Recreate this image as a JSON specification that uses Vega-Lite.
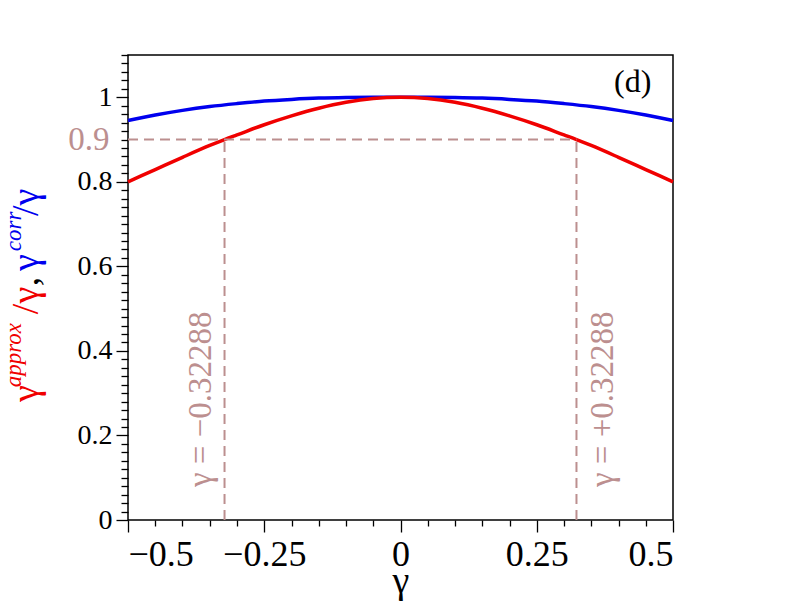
{
  "$schema": "https://vega.github.io/schema/vega-lite/v6.json",
  "width": 545,
  "height": 465,
  "autosize": {"type": "none"},
  "padding": {"left": 128, "top": 55, "right": 119, "bottom": 92},
  "background": "white",
  "config": {
    "font": "Liberation Serif",
    "view": {"stroke": "black", "strokeWidth": 1.5},
    "axis": {
      "domain": false,
      "grid": false,
      "tickColor": "black",
      "tickWidth": 1.3,
      "labelColor": "black",
      "labelFont": "Liberation Serif",
      "titleFont": "Liberation Serif",
      "titleColor": "black",
      "titleFontWeight": "normal"
    }
  },
  "datasets": {
    "curves": [
      {"g": -0.5, "v": 0.945, "s": "corr"},
      {"g": -0.45, "v": 0.958, "s": "corr"},
      {"g": -0.4, "v": 0.969, "s": "corr"},
      {"g": -0.35, "v": 0.978, "s": "corr"},
      {"g": -0.3, "v": 0.985, "s": "corr"},
      {"g": -0.25, "v": 0.991, "s": "corr"},
      {"g": -0.2, "v": 0.995, "s": "corr"},
      {"g": -0.15, "v": 0.998, "s": "corr"},
      {"g": -0.1, "v": 0.9995, "s": "corr"},
      {"g": -0.05, "v": 1.0, "s": "corr"},
      {"g": 0, "v": 1.0, "s": "corr"},
      {"g": 0.05, "v": 1.0, "s": "corr"},
      {"g": 0.1, "v": 0.9995, "s": "corr"},
      {"g": 0.15, "v": 0.998, "s": "corr"},
      {"g": 0.2, "v": 0.995, "s": "corr"},
      {"g": 0.25, "v": 0.991, "s": "corr"},
      {"g": 0.3, "v": 0.985, "s": "corr"},
      {"g": 0.35, "v": 0.978, "s": "corr"},
      {"g": 0.4, "v": 0.969, "s": "corr"},
      {"g": 0.45, "v": 0.958, "s": "corr"},
      {"g": 0.5, "v": 0.945, "s": "corr"},
      {"g": -0.5, "v": 0.8, "s": "approx"},
      {"g": -0.45, "v": 0.829, "s": "approx"},
      {"g": -0.4, "v": 0.858, "s": "approx"},
      {"g": -0.35, "v": 0.886, "s": "approx"},
      {"g": -0.32288, "v": 0.9, "s": "approx"},
      {"g": -0.3, "v": 0.911, "s": "approx"},
      {"g": -0.25, "v": 0.935, "s": "approx"},
      {"g": -0.2, "v": 0.956, "s": "approx"},
      {"g": -0.15, "v": 0.974, "s": "approx"},
      {"g": -0.1, "v": 0.988, "s": "approx"},
      {"g": -0.05, "v": 0.997, "s": "approx"},
      {"g": 0, "v": 1.0, "s": "approx"},
      {"g": 0.05, "v": 0.997, "s": "approx"},
      {"g": 0.1, "v": 0.988, "s": "approx"},
      {"g": 0.15, "v": 0.974, "s": "approx"},
      {"g": 0.2, "v": 0.956, "s": "approx"},
      {"g": 0.25, "v": 0.935, "s": "approx"},
      {"g": 0.3, "v": 0.911, "s": "approx"},
      {"g": 0.32288, "v": 0.9, "s": "approx"},
      {"g": 0.35, "v": 0.886, "s": "approx"},
      {"g": 0.4, "v": 0.858, "s": "approx"},
      {"g": 0.45, "v": 0.829, "s": "approx"},
      {"g": 0.5, "v": 0.8, "s": "approx"}
    ],
    "guides": [
      {"x1": -0.5, "x2": 0.32288, "y1": 0.9, "y2": 0.9},
      {"x1": -0.32288, "x2": -0.32288, "y1": 0, "y2": 0.9},
      {"x1": 0.32288, "x2": 0.32288, "y1": 0, "y2": 0.9}
    ]
  },
  "layer": [
    {
      "data": {"name": "curves"},
      "transform": [{"filter": "datum.s === 'corr'"}],
      "mark": {"type": "line", "color": "#0000ee", "strokeWidth": 3.5, "interpolate": "monotone"},
      "encoding": {
        "x": {"field": "g", "type": "quantitative",
          "scale": {"domain": [-0.5, 0.5], "nice": false, "zero": false},
          "axis": {"orient": "bottom", "title": null, "labels": false, "tickSize": 6,
            "values": [-0.45, -0.4, -0.35, -0.3, -0.2, -0.15, -0.1, -0.05, 0.05, 0.1, 0.15, 0.2, 0.3, 0.35, 0.4, 0.45]}},
        "y": {"field": "v", "type": "quantitative",
          "scale": {"domain": [0, 1.1], "nice": false, "zero": false},
          "axis": {"orient": "left", "title": null, "labels": false, "tickSize": 7,
            "values": [0.02,0.04,0.06,0.08,0.1,0.12,0.14,0.16,0.18,0.22,0.24,0.26,0.28,0.3,0.32,0.34,0.36,0.38,0.42,0.44,0.46,0.48,0.5,0.52,0.54,0.56,0.58,0.62,0.64,0.66,0.68,0.7,0.72,0.74,0.76,0.78,0.82,0.84,0.86,0.88,0.9,0.92,0.94,0.96,0.98,1.02,1.04,1.06,1.08,1.1]}}
      }
    },
    {
      "data": {"name": "curves"},
      "transform": [{"filter": "datum.s === 'approx'"}],
      "mark": {"type": "line", "color": "#f00000", "strokeWidth": 3.5, "interpolate": "monotone"},
      "encoding": {
        "x": {"field": "g", "type": "quantitative",
          "scale": {"domain": [-0.5, 0.5], "nice": false, "zero": false},
          "axis": {"orient": "bottom", "title": "γ", "titleFontSize": 38, "titlePadding": -10,
            "labelFontSize": 36, "labelPadding": 5, "tickSize": 12, "format": ".2~f",
            "values": [-0.5, -0.25, 0, 0.25, 0.5]}},
        "y": {"field": "v", "type": "quantitative",
          "scale": {"domain": [0, 1.1], "nice": false, "zero": false},
          "axis": {"orient": "left", "title": null, "labelFontSize": 28, "labelPadding": 4,
            "tickSize": 12, "format": ".1~f", "values": [0, 0.2, 0.4, 0.6, 0.8, 1]}}
      }
    },
    {
      "data": {"name": "guides"},
      "mark": {"type": "rule", "color": "#bc8f8f", "strokeWidth": 2, "strokeDash": [10, 6]},
      "encoding": {
        "x": {"field": "x1", "type": "quantitative", "scale": {"domain": [-0.5, 0.5], "nice": false, "zero": false}, "axis": null},
        "x2": {"field": "x2"},
        "y": {"field": "y1", "type": "quantitative", "scale": {"domain": [0, 1.1], "nice": false, "zero": false}, "axis": null},
        "y2": {"field": "y2"}
      }
    },
    {
      "data": {"values": [
        {"x": -0.347, "y": 0.078, "t": "γ = −0.32288"},
        {"x": 0.389, "y": 0.078, "t": "γ = +0.32288"}
      ]},
      "mark": {"type": "text", "color": "#bc8f8f", "fontSize": 33, "angle": 270, "align": "left", "baseline": "alphabetic"},
      "encoding": {
        "x": {"field": "x", "type": "quantitative", "scale": {"domain": [-0.5, 0.5], "nice": false, "zero": false}, "axis": null},
        "y": {"field": "y", "type": "quantitative", "scale": {"domain": [0, 1.1], "nice": false, "zero": false}, "axis": null},
        "text": {"field": "t"}
      }
    },
    {
      "data": {"values": [{"x": -0.534, "y": 0.9, "t": "0.9"}]},
      "mark": {"type": "text", "color": "#bc8f8f", "fontSize": 33, "align": "right", "baseline": "middle"},
      "encoding": {
        "x": {"field": "x", "type": "quantitative", "scale": {"domain": [-0.5, 0.5], "nice": false, "zero": false}, "axis": null},
        "y": {"field": "y", "type": "quantitative", "scale": {"domain": [0, 1.1], "nice": false, "zero": false}, "axis": null},
        "text": {"field": "t"}
      }
    },
    {
      "data": {"values": [{"x": 0.426, "y": 1.012, "t": "(d)"}]},
      "mark": {"type": "text", "color": "black", "fontSize": 32, "align": "center", "baseline": "alphabetic"},
      "encoding": {
        "x": {"field": "x", "type": "quantitative", "scale": {"domain": [-0.5, 0.5], "nice": false, "zero": false}, "axis": null},
        "y": {"field": "y", "type": "quantitative", "scale": {"domain": [0, 1.1], "nice": false, "zero": false}, "axis": null},
        "text": {"field": "t"}
      }
    },
    {
      "data": {"values": [
        {"x": -0.666, "y": 0.279, "t": "γ"},
        {"x": -0.666, "y": 0.487, "t": "/γ"}
      ]},
      "mark": {"type": "text", "color": "#f00000", "fontSize": 38, "angle": 270, "align": "left", "baseline": "alphabetic"},
      "encoding": {
        "x": {"field": "x", "type": "quantitative", "scale": {"domain": [-0.5, 0.5], "nice": false, "zero": false}, "axis": null},
        "y": {"field": "y", "type": "quantitative", "scale": {"domain": [0, 1.1], "nice": false, "zero": false}, "axis": null},
        "text": {"field": "t"}
      }
    },
    {
      "data": {"values": [{"x": -0.697, "y": 0.314, "t": "approx"}]},
      "mark": {"type": "text", "color": "#f00000", "fontSize": 23, "fontStyle": "italic", "angle": 270, "align": "left", "baseline": "alphabetic"},
      "encoding": {
        "x": {"field": "x", "type": "quantitative", "scale": {"domain": [-0.5, 0.5], "nice": false, "zero": false}, "axis": null},
        "y": {"field": "y", "type": "quantitative", "scale": {"domain": [0, 1.1], "nice": false, "zero": false}, "axis": null},
        "text": {"field": "t"}
      }
    },
    {
      "data": {"values": [{"x": -0.666, "y": 0.553, "t": ","}]},
      "mark": {"type": "text", "color": "black", "fontSize": 38, "angle": 270, "align": "left", "baseline": "alphabetic"},
      "encoding": {
        "x": {"field": "x", "type": "quantitative", "scale": {"domain": [-0.5, 0.5], "nice": false, "zero": false}, "axis": null},
        "y": {"field": "y", "type": "quantitative", "scale": {"domain": [0, 1.1], "nice": false, "zero": false}, "axis": null},
        "text": {"field": "t"}
      }
    },
    {
      "data": {"values": [
        {"x": -0.666, "y": 0.589, "t": "γ"},
        {"x": -0.666, "y": 0.719, "t": "/γ"}
      ]},
      "mark": {"type": "text", "color": "#0000ee", "fontSize": 38, "angle": 270, "align": "left", "baseline": "alphabetic"},
      "encoding": {
        "x": {"field": "x", "type": "quantitative", "scale": {"domain": [-0.5, 0.5], "nice": false, "zero": false}, "axis": null},
        "y": {"field": "y", "type": "quantitative", "scale": {"domain": [0, 1.1], "nice": false, "zero": false}, "axis": null},
        "text": {"field": "t"}
      }
    },
    {
      "data": {"values": [{"x": -0.697, "y": 0.636, "t": "corr"}]},
      "mark": {"type": "text", "color": "#0000ee", "fontSize": 23, "fontStyle": "italic", "angle": 270, "align": "left", "baseline": "alphabetic"},
      "encoding": {
        "x": {"field": "x", "type": "quantitative", "scale": {"domain": [-0.5, 0.5], "nice": false, "zero": false}, "axis": null},
        "y": {"field": "y", "type": "quantitative", "scale": {"domain": [0, 1.1], "nice": false, "zero": false}, "axis": null},
        "text": {"field": "t"}
      }
    }
  ],
  "resolve": {"axis": {"x": "independent", "y": "independent"}}
}
